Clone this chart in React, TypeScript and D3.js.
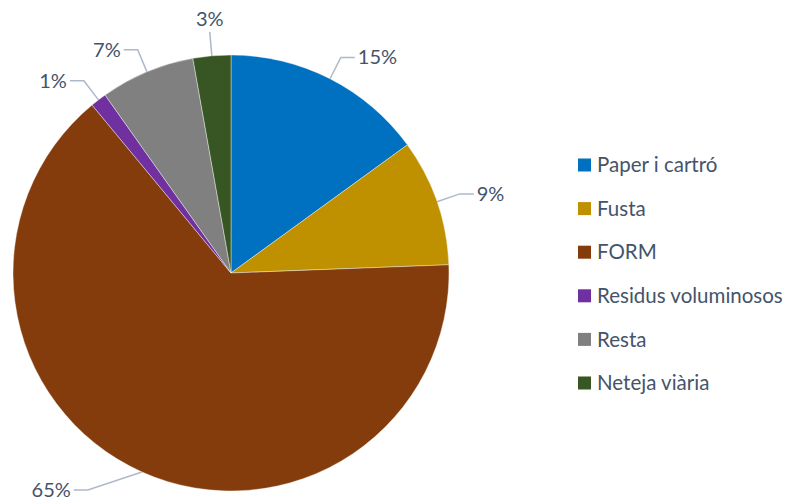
import * as d3 from 'd3'
import { useEffect, useRef } from 'react'

const categories = ['Paper i cartró', 'Fusta', 'FORM', 'Residus voluminosos', 'Resta', 'Neteja viària']
const values = [15.0, 9.4, 64.6, 1.2, 7.0, 2.8]
const labels = ['15%', '9%', '65%', '1%', '7%', '3%']
const colors = ['#0070C0', '#BF9000', '#843C0C', '#7030A0', '#808080', '#375623']

export default function App() {
    const svgRef = useRef<SVGSVGElement>(null)

    useEffect(() => {
        makeChart(svgRef)
    }, [])

    function makeChart(svgRef: React.RefObject<SVGSVGElement>) {
        const width = 795
        const height = 500
        const cx = 231
        const cy = 273
        const radius = 218
        const textColor = '#44546A'
        const lineColor = '#ADB9CA'
        const font = 'Lato, "Open Sans", sans-serif'

        const svg = d3.select(svgRef.current).attr('width', width).attr('height', height)
        svg.selectAll('*').remove()

        const data = categories.map((c, i) => ({ name: c, value: values[i], label: labels[i], color: colors[i] }))

        const pie = d3.pie<any>().value(d => d.value).sort(null)
        const arcs = pie(data)
        const arc = d3.arc<any>().innerRadius(0).outerRadius(radius)

        const g = svg.append('g').attr('transform', `translate(${cx},${cy})`)

        g.selectAll('path.slice')
            .data(arcs)
            .enter()
            .append('path')
            .attr('class', 'slice')
            .attr('d', arc)
            .attr('fill', d => d.data.color)
            .attr('stroke', '#fff')
            .attr('stroke-width', 0.4)

        // leader lines + labels, kept inside the picture
        const yLimit = height - 10 - cy
        arcs.forEach(a => {
            const mid = (a.startAngle + a.endAngle) / 2
            const sx = Math.sin(mid)
            const sy = -Math.cos(mid)
            const p0: [number, number] = [sx * radius, sy * radius]
            let p1: [number, number] = [sx * (radius + 24), sy * (radius + 24)]
            const side = sx > 0 ? 1 : -1
            if (p1[1] > yLimit) {
                p1 = [p0[0] + side * 3 * (yLimit - p0[1]), yLimit]
            }
            const lg = g.append('g')
            const txt = lg.append('text')
                .attr('fill', textColor)
                .style('font-family', font)
                .style('font-size', '20px')
                .text(a.data.label)
            if (Math.abs(sx) < 0.2) {
                lg.append('path')
                    .attr('d', d3.line()([p0, p1]))
                    .attr('fill', 'none')
                    .attr('stroke', lineColor)
                    .attr('stroke-width', 1.5)
                txt.attr('x', p1[0])
                    .attr('y', p1[1] - 6)
                    .attr('text-anchor', 'middle')
            } else {
                const p2: [number, number] = [p1[0] + side * 14, p1[1]]
                lg.append('path')
                    .attr('d', d3.line()([p0, p1, p2]))
                    .attr('fill', 'none')
                    .attr('stroke', lineColor)
                    .attr('stroke-width', 1.5)
                txt.attr('x', p2[0] + side * 3)
                    .attr('y', p2[1])
                    .attr('dy', '0.35em')
                    .attr('text-anchor', side > 0 ? 'start' : 'end')
            }
        })

        // legend
        const legendY = d3.scalePoint<string>().domain(categories).range([165, 383])
        const legend = svg.append('g')
        const items = legend.selectAll('g')
            .data(data)
            .enter()
            .append('g')
            .attr('transform', d => `translate(578,${legendY(d.name)})`)
        items.append('rect')
            .attr('x', 0)
            .attr('y', -6.5)
            .attr('width', 13)
            .attr('height', 13)
            .attr('fill', d => d.color)
        items.append('text')
            .attr('x', 19)
            .attr('y', 0)
            .attr('dy', '0.35em')
            .attr('fill', textColor)
            .style('font-family', font)
            .style('font-size', '20.5px')
            .text(d => d.name)
    }

    return (
        <svg ref={svgRef} style={{ position: 'absolute', left: 0, top: 0, display: 'block' }}></svg>
    )
}
